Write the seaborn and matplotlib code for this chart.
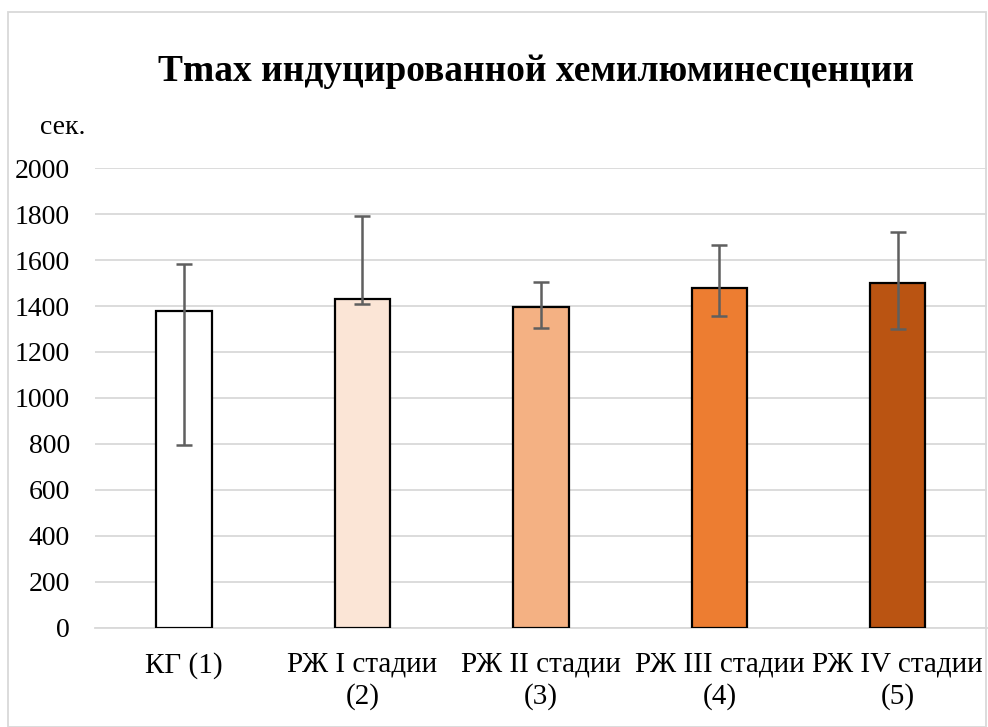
import matplotlib
matplotlib.use("Agg")
import matplotlib.pyplot as plt
import seaborn as sns
import pandas as pd
from matplotlib.patches import Rectangle

categories = ["КГ (1)", "РЖ I стадии\n(2)", "РЖ II стадии\n(3)", "РЖ III стадии\n(4)", "РЖ IV стадии\n(5)"]
values = [1380, 1429, 1394, 1478, 1501]
err_low = [795, 1410, 1303, 1355, 1300]
err_high = [1584, 1790, 1504, 1665, 1722]
colors = ["#FFFFFF", "#FBE5D6", "#F4B183", "#ED7D31", "#BA5412"]
yticks = [0, 200, 400, 600, 800, 1000, 1200, 1400, 1600, 1800, 2000]
title = "Tmax индуцированной хемилюминесценции"
unit_label = "сек."

sns.set_theme(style="white")
plt.rcParams['font.family'] = ['Liberation Serif', 'DejaVu Serif']
plt.rcParams['text.color'] = 'black'

df = pd.DataFrame({"cat": categories, "val": values})

fig = plt.figure(figsize=(9.88, 7.27), dpi=100)
ax = fig.add_axes([0.096, 0.1362, 0.903, 0.6327])

sns.barplot(data=df, x="cat", y="val", hue="cat", palette=colors, dodge=False,
            legend=False, width=0.31, edgecolor="black", linewidth=1.6, saturation=1,
            errorbar=None, ax=ax, zorder=3)

xs = list(range(len(categories)))
yerr = [[v - lo for v, lo in zip(values, err_low)], [hi - v for v, hi in zip(values, err_high)]]
ax.errorbar(xs, values, yerr=yerr, fmt="none", ecolor="#5f5f5f", elinewidth=1.8,
            capsize=6, capthick=1.8, zorder=4)

ax.set_ylim(0, 2000)
ax.set_xlim(-0.5, len(categories) - 0.5)
ax.set_yticks(yticks)
ax.set_yticklabels([str(t) for t in yticks])
ax.yaxis.grid(True, color="#d9d9d9", linewidth=1.3, zorder=0)
ax.set_axisbelow(True)
for s in ["top", "right", "left"]:
    ax.spines[s].set_visible(False)
ax.spines["bottom"].set_color("#d9d9d9")
ax.spines["bottom"].set_linewidth(1.3)
ax.tick_params(axis="y", length=0, pad=18, labelsize=20, labelcolor="black")
ax.tick_params(axis="x", length=0, pad=17, labelsize=21, labelcolor="black")
for lbl in ax.get_xticklabels():
    lbl.set_linespacing(1.25)
ax.set_xlabel("")
ax.set_ylabel("")

fig.text(0.064, 0.825, unit_label, fontsize=20, ha="center", va="center")
fig.text(0.543, 0.902, title, fontsize=27, fontweight="bold", ha="center", va="center")

fig.patches.append(Rectangle((0.008, 0.0), 0.99, 0.983, transform=fig.transFigure,
                             fill=False, edgecolor="#d9d9d9", linewidth=1.3))

fig.savefig("out.png", dpi=100)
